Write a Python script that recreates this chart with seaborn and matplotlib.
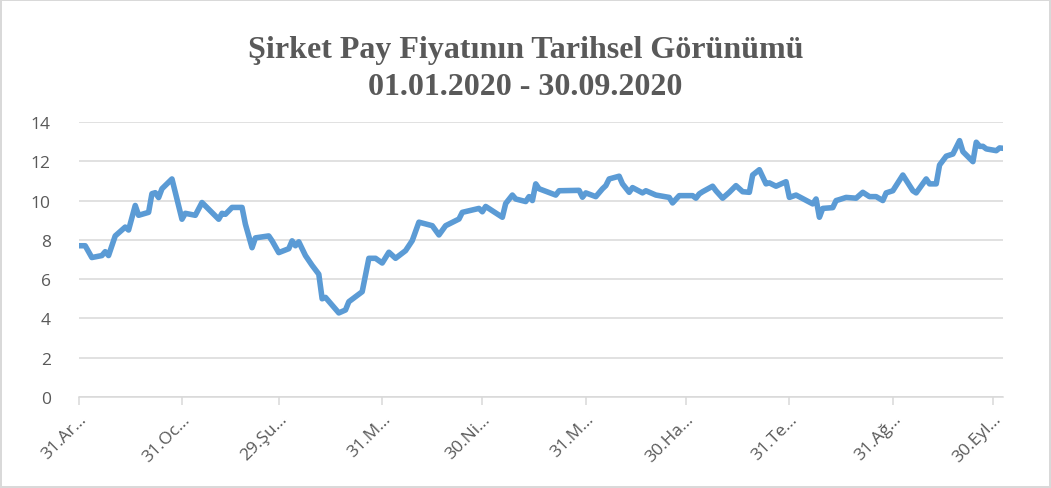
import numpy as np
import pandas as pd
import matplotlib
matplotlib.use("Agg")
import matplotlib.pyplot as plt
import seaborn as sns

# ---- data ----
start_date = "2019-12-31"
day_offsets = [0, 2, 4, 7, 8, 9, 11, 14, 15, 17, 18, 21, 22, 23, 24, 25, 28, 31, 32, 35,
               37, 42, 43, 44, 46, 49, 50, 51, 52, 53, 57, 58, 60, 63, 64, 65, 66, 68, 70, 72,
               73, 74, 77, 78, 80, 81, 85, 87, 89, 91, 93, 95, 98, 100, 102, 106, 108, 110, 114, 115,
               120, 121, 122, 127, 128, 130, 131, 134, 135, 136, 137, 138, 143, 144, 150, 151, 152, 155, 157, 158,
               159, 162, 163, 165, 166, 169, 170, 173, 177, 178, 180, 184, 185, 186, 187, 190, 191, 193, 195, 197,
               199, 201, 202, 204, 206, 207, 209, 212, 213, 215, 220, 221, 222, 223, 226, 227, 228, 230, 233, 235,
               237, 239, 241, 242, 244, 247, 250, 251, 254, 255, 257, 258, 260, 262, 264, 265, 268, 269, 270, 271,
               272, 275, 276, 277]
prices = [7.70, 7.70, 7.10, 7.20, 7.40, 7.20, 8.20, 8.65, 8.50, 9.75, 9.25, 9.40, 10.35, 10.40, 10.15, 10.60, 11.10, 9.05, 9.35, 9.25,
          9.90, 9.05, 9.35, 9.30, 9.65, 9.65, 8.80, 8.20, 7.60, 8.10, 8.20, 7.95, 7.35, 7.55, 7.95, 7.70, 7.90, 7.20, 6.70, 6.25,
          5.00, 5.07, 4.48, 4.28, 4.43, 4.85, 5.36, 7.06, 7.06, 6.82, 7.37, 7.06, 7.45, 7.96, 8.90, 8.72, 8.25, 8.72, 9.06, 9.40,
          9.60, 9.43, 9.70, 9.15, 9.85, 10.28, 10.08, 9.95, 10.20, 10.00, 10.85, 10.60, 10.28, 10.50, 10.52, 10.17, 10.39, 10.20, 10.60, 10.76,
          11.10, 11.24, 10.85, 10.42, 10.66, 10.39, 10.50, 10.28, 10.16, 9.88, 10.25, 10.25, 10.12, 10.34, 10.45, 10.73, 10.50, 10.12, 10.42, 10.76,
          10.45, 10.42, 11.30, 11.57, 10.85, 10.90, 10.73, 10.96, 10.16, 10.28, 9.83, 10.08, 9.15, 9.60, 9.64, 10.00, 10.05, 10.16, 10.12, 10.42,
          10.20, 10.20, 10.00, 10.39, 10.50, 11.30, 10.50, 10.39, 11.10, 10.85, 10.85, 11.81, 12.26, 12.37, 13.05, 12.49, 11.98, 12.97, 12.76, 12.76,
          12.63, 12.54, 12.68, 12.66]
tick_dates = ["2019-12-31", "2020-01-31", "2020-02-29", "2020-03-31", "2020-04-30",
              "2020-05-31", "2020-06-30", "2020-07-31", "2020-08-31", "2020-09-30"]
tick_labels = ["31.Ar…", "31.Oc…", "29.Şu…", "31.M…", "30.Ni…",
               "31.M…", "30.Ha…", "31.Te…", "31.Ağ…", "30.Eyl…"]
y_ticks = [0, 2, 4, 6, 8, 10, 12, 14]
title_lines = ["Şirket Pay Fiyatının Tarihsel Görünümü", "01.01.2020 - 30.09.2020"]

dates = pd.Timestamp(start_date) + pd.to_timedelta(day_offsets, unit="D")
df = pd.DataFrame({"Tarih": dates, "Fiyat": prices})

sns.set_theme(style="white")
plt.rcParams["font.family"] = ["Open Sans", "DejaVu Sans"]

TXT = "#595959"
fig = plt.figure(figsize=(10.51, 4.89), dpi=100)
fig.patch.set_facecolor("white")
fig.patch.set_edgecolor("#d9d9d9")
fig.patch.set_linewidth(1.5)

ax = fig.add_axes([0.0747, 0.1861, 0.9543 - 0.0747, 0.7485 - 0.1861])
sns.lineplot(data=df, x="Tarih", y="Fiyat", ax=ax, color="#5B9BD5",
             linewidth=4.0, solid_joinstyle="round", solid_capstyle="round")

ax.set_ylim(0, 14)
ax.set_xlim(pd.Timestamp(start_date), dates[-1])
ax.set_yticks(y_ticks)
ax.set_yticklabels([str(v) for v in y_ticks], color=TXT, fontsize=12.5)
ax.set_xticks(pd.to_datetime(tick_dates))
ax.set_xticklabels(tick_labels, rotation=45, ha="right", rotation_mode="anchor",
                   color=TXT, fontsize=12.5)
ax.set_xlabel("")
ax.set_ylabel("")

ax.grid(axis="y", color="#d9d9d9", linewidth=1.1)
ax.grid(axis="x", visible=False)
ax.set_axisbelow(True)
for s in ["left", "right", "top"]:
    ax.spines[s].set_visible(False)
ax.spines["bottom"].set_color("#d9d9d9")
ax.spines["bottom"].set_linewidth(1.1)
ax.tick_params(axis="x", which="major", bottom=True, length=6, width=1.1,
               color="#d9d9d9", pad=4)
ax.tick_params(axis="y", left=False, pad=14)

fig.text(0.5, 0.897, title_lines[0], ha="center", va="center", color=TXT,
         fontsize=23, fontweight="bold", family=["Liberation Serif", "DejaVu Serif"])
fig.text(0.5, 0.822, title_lines[1], ha="center", va="center", color=TXT,
         fontsize=23, fontweight="bold", family=["Liberation Serif", "DejaVu Serif"])

fig.savefig("out.png", dpi=100)
